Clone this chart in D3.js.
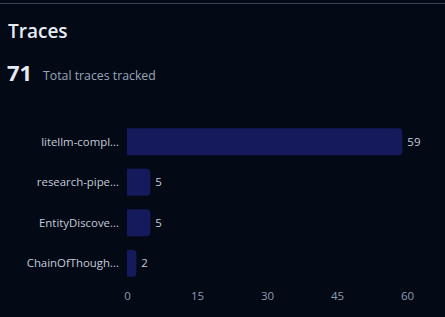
<!DOCTYPE html>
<html><head><meta charset="utf-8">
<script src="https://cdn.jsdelivr.net/npm/d3@7"></script>
<style>
html,body{margin:0;padding:0;background:#040916;}
svg{display:block;font-family:"Open Sans","Noto Sans",sans-serif;}
</style></head>
<body><svg id="c" width="445" height="317"></svg>
<script>
const categories = ["litellm-compl...", "research-pipe...", "EntityDiscove...", "ChainOfThough..."];
const values = [59, 5, 5, 2];
const ticks = [0, 15, 30, 45, 60];
const total = 71;

const svg = d3.select("#c");
svg.append("rect").attr("width",445).attr("height",317).attr("fill","#040916");
svg.append("rect").attr("x",0).attr("y",3).attr("width",445).attr("height",1).attr("fill","#3b4256");

svg.append("text").attr("x",8).attr("y",38).attr("fill","#e6ecf5")
  .attr("font-size",19).attr("font-weight",600).text("Traces");
svg.append("text").attr("x",7).attr("y",81).attr("fill","#e6ecf5")
  .attr("font-size",22).attr("font-weight",700).text(total);
svg.append("text").attr("x",43).attr("y",80).attr("fill","#9aa6b8")
  .attr("font-size",12.3).text("Total traces tracked");

const x = d3.scaleLinear().domain([0,60]).range([127,407]);
const y = d3.scaleBand().domain(categories).range([121.5,283.5]).paddingInner(0.33).paddingOuter(0.165);

const r = 4;
const g = svg.append("g");
categories.forEach((c,i)=>{
  const x0 = x(0), x1 = x(values[i]), y0 = y(c), h = y.bandwidth();
  const rr = Math.min(r, (x1-x0)/2);
  const p = `M${x0},${y0}H${x1-rr}Q${x1},${y0} ${x1},${y0+rr}V${y0+h-rr}Q${x1},${y0+h} ${x1-rr},${y0+h}H${x0}Z`;
  g.append("path").attr("d",p).attr("fill","#141a5b");
  g.append("text").attr("x",x1+5).attr("y",y0+h/2).attr("dy","0.35em")
    .attr("fill","#c3cbd8").attr("font-size",11.5).text(values[i]);
  g.append("text").attr("x",119).attr("y",y0+h/2).attr("dy","0.35em").attr("text-anchor","end")
    .attr("fill","#c3cbd8").attr("font-size",11.4).text(c);
});

const ax = svg.append("g").attr("transform","translate(0,288)")
  .call(d3.axisBottom(x).tickValues(ticks).tickSize(0).tickPadding(4));
ax.select(".domain").remove();
ax.selectAll("text").attr("fill","#8d9cb3").attr("font-size",11.5).attr("font-family","\"Open Sans\",sans-serif");
</script></body></html>
